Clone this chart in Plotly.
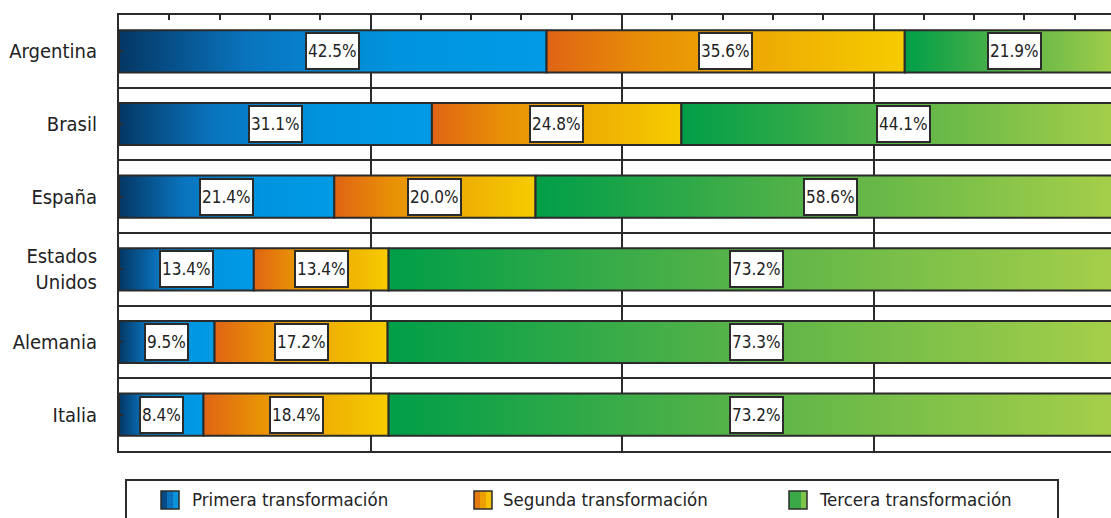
import plotly.graph_objects as go

# data (shares of each stage, in %)
countries = ["Argentina", "Brasil", "España", "Estados<br>Unidos", "Alemania", "Italia"]
primera = [42.5, 31.1, 21.4, 13.4, 9.5, 8.4]
segunda = [35.6, 24.8, 20.0, 13.4, 17.2, 18.4]
tercera = [21.9, 44.1, 58.6, 73.2, 73.3, 73.2]
series_names = ["Primera transformación", "Segunda transformación", "Tercera transformación"]

FONT = "DejaVu Sans Condensed, DejaVu Sans, sans-serif"
INK = "#2b2b2b"

gradients = [
    [[0, "#043764"], [0.3, "#0a74be"], [0.65, "#0094de"], [1, "#009ae6"]],
    [[0, "#e06414"], [0.3, "#e89206"], [1, "#f6cc00"]],
    [[0, "#009e48"], [0.5, "#5cb448"], [1, "#a8d04a"]],
]
# colours for the little legend squares (left -> right slices)
legend_slices = [
    ["#064a86", "#0a72bc", "#0a92da"],
    ["#e47a0c", "#eda004", "#f4c200"],
    ["#3aaa48", "#3aaa48", "#7cc44a"],
]

half = 0.29  # half bar thickness in category units

# figure geometry (pixels) used to place the hand-made legend
W, H = 1111, 518
ML, MR, MT, MB = 119, 0, 15, 67
PW, PH = W - ML - MR, H - MT - MB


def px_x(px):
    return (px - ML) / PW


def px_y(py):
    return (H - MB - py) / PH


fig = go.Figure()
annotations = []

series = [primera, segunda, tercera]
for i, country in enumerate(countries):
    start = 0.0
    for s, values in enumerate(series):
        v = values[i]
        x0, x1 = start, start + v
        fig.add_trace(go.Scatter(
            x=[x0, x1, x1, x0, x0],
            y=[i - half, i - half, i + half, i + half, i - half],
            mode="lines",
            fill="toself",
            fillgradient=dict(type="horizontal", colorscale=gradients[s]),
            line=dict(color=INK, width=2),
            showlegend=False,
            hoverinfo="skip",
        ))
        annotations.append(dict(
            x=(x0 + x1) / 2, y=i, xref="x", yref="y",
            text=f"{v:.1f}%", showarrow=False,
            bgcolor="white", bordercolor=INK, borderwidth=2, borderpad=1,
            height=32,
            font=dict(family=FONT, size=17, color="#222"),
        ))
        start = x1

# hand-made legend: box, squares and labels
shapes = [dict(
    type="rect", xref="paper", yref="paper",
    x0=px_x(126), x1=px_x(1058), y0=px_y(480), y1=px_y(545),
    line=dict(color=INK, width=2), fillcolor="rgba(0,0,0,0)",
)]
icon_left = [161, 474, 789]
text_left = [190, 501, 817]
for s, name in enumerate(series_names):
    x0 = icon_left[s]
    n = len(legend_slices[s])
    step = 18 / n
    for k, col in enumerate(legend_slices[s]):
        shapes.append(dict(
            type="rect", xref="paper", yref="paper",
            x0=px_x(x0 + k * step), x1=px_x(x0 + (k + 1) * step),
            y0=px_y(491), y1=px_y(509),
            line=dict(width=0), fillcolor=col,
        ))
    shapes.append(dict(
        type="rect", xref="paper", yref="paper",
        x0=px_x(x0), x1=px_x(x0 + 18), y0=px_y(491), y1=px_y(509),
        line=dict(color=INK, width=1.5), fillcolor="rgba(0,0,0,0)",
    ))
    annotations.append(dict(
        x=px_x(text_left[s]), y=px_y(499), xref="paper", yref="paper",
        xanchor="left", yanchor="middle", showarrow=False,
        text=name, font=dict(family=FONT, size=18.5, color="#222"),
    ))

fig.update_layout(
    width=W, height=H,
    margin=dict(l=ML, r=MR, t=MT, b=MB),
    plot_bgcolor="white", paper_bgcolor="white",
    font=dict(family=FONT, color="#222"),
    annotations=annotations,
    shapes=shapes,
    showlegend=False,
    xaxis=dict(
        range=[0, 98.6], side="top", showticklabels=False,
        tick0=0, dtick=25,
        showgrid=True, gridcolor=INK, gridwidth=2,
        ticks="inside", ticklen=5, tickwidth=2, tickcolor=INK,
        minor=dict(dtick=5, ticks="inside", ticklen=5, tickwidth=2,
                   tickcolor=INK, showgrid=False),
        showline=True, linecolor=INK, linewidth=2, mirror=True,
        zeroline=False, fixedrange=True,
    ),
    yaxis=dict(
        range=[5.5, -0.5],
        tickvals=list(range(len(countries))), ticktext=countries,
        ticks="inside", ticklen=4, tickwidth=2, tickcolor=INK,
        showgrid=False,
        minor=dict(tick0=0.5, dtick=1, showgrid=True, gridcolor=INK,
                   gridwidth=2, ticks=""),
        showline=True, linecolor=INK, linewidth=2,
        zeroline=False, fixedrange=True,
        tickfont=dict(family=FONT, size=20, color="#222"),
        ticklabelstandoff=16,
    ),
)

# the page's default body margin would push the figure 8px off the corner
fig.write_html("out.html", config={"displayModeBar": False},
               post_script="document.body.style.margin='0';")
